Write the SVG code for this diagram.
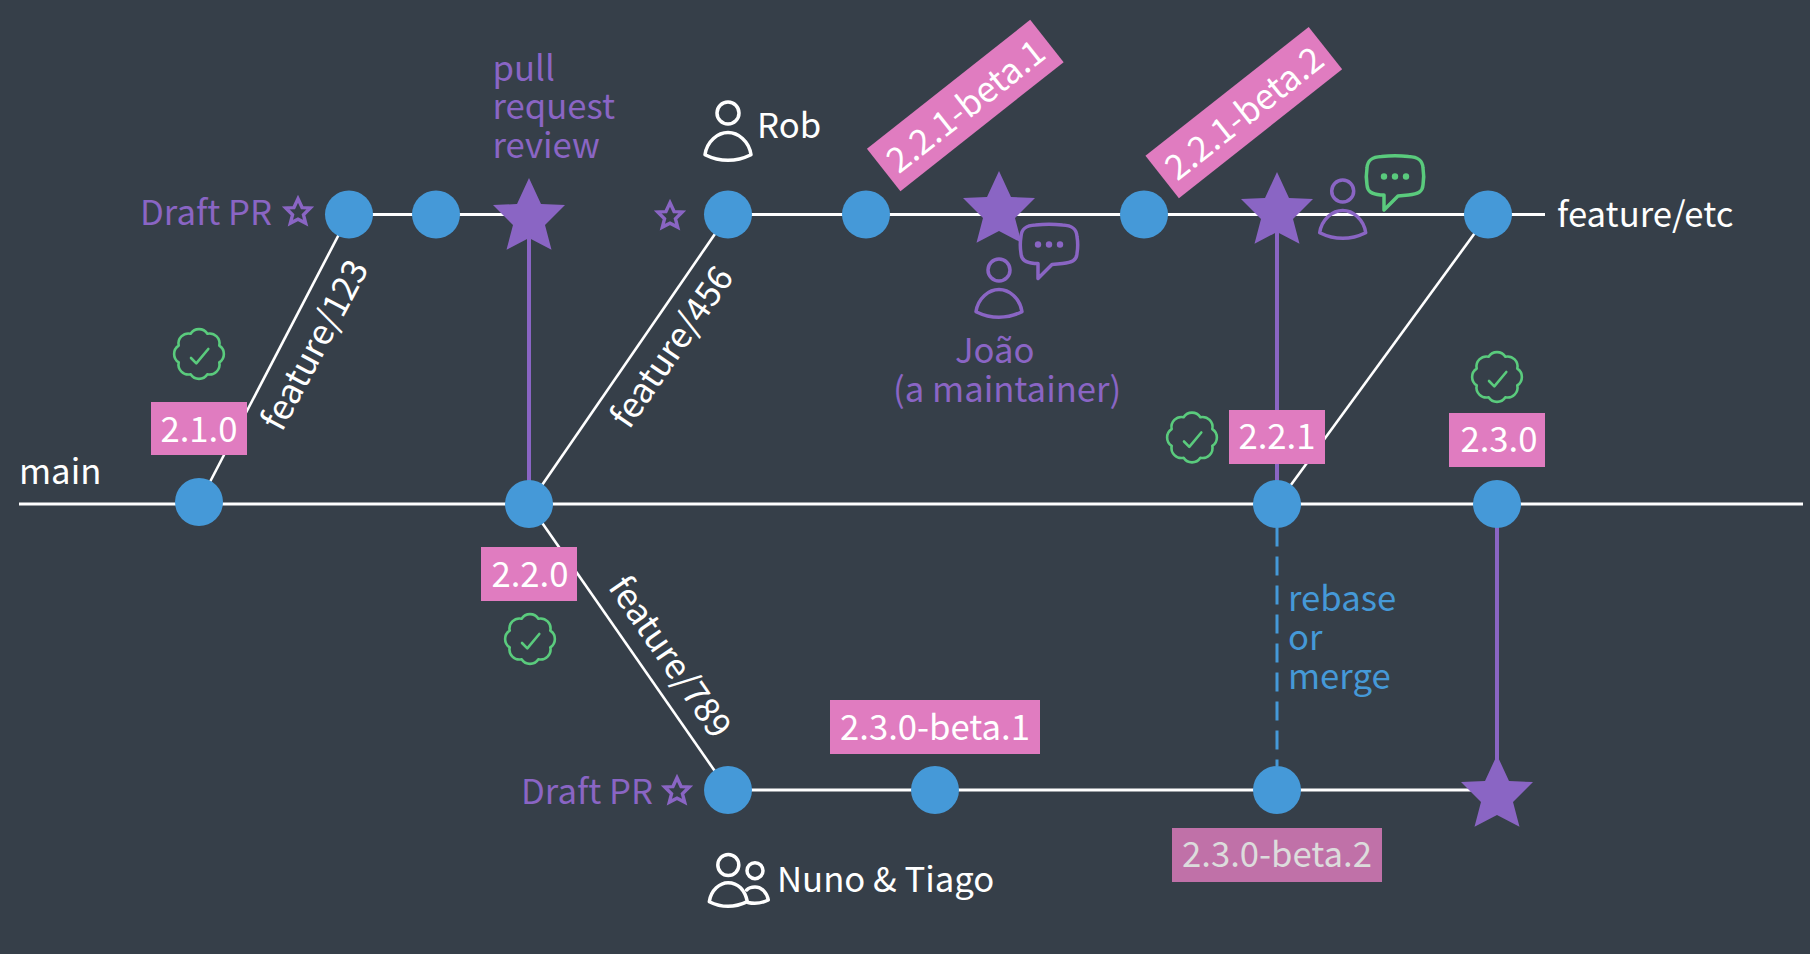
<svg xmlns="http://www.w3.org/2000/svg" xmlns:xlink="http://www.w3.org/1999/xlink" width="1810" height="954" viewBox="0 0 1810 954">
<style>
text{font-family:"Noto Sans CJK SC","Noto Sans CJK JP","Source Sans Pro","Noto Sans",sans-serif;font-size:34.7px;fill:#fff}
.p{fill:#8a65c4}.b{fill:#4599d8}
.m{text-anchor:middle}
.c{fill:#4599d8}
.s{fill:#8a65c4}
.tag{fill:#e07cc0}
.w{stroke:#fff;stroke-width:3;fill:none}
.d{stroke:#fff;stroke-width:2.600;fill:none}
.v{stroke:#8a65c4;stroke-width:4;fill:none}
.ic{fill:none;stroke-width:3.5;stroke-linejoin:round;stroke-linecap:round}
</style>
<defs>
<polygon id="star" points="0,-39 12,-13 36,-12 16,8 22.5,32.7 0,21 -22.5,32.7 -16,8 -36,-12 -12,-13"/>
<g id="badge" fill="none" stroke="#5acb7d" stroke-width="2.6" stroke-linecap="round" stroke-linejoin="round">
<path d="M8.4,-20.3A10,10 0 0 1 20.3,-8.4A10,10 0 0 1 20.3,8.4A10,10 0 0 1 8.4,20.3A10,10 0 0 1 -8.4,20.3A10,10 0 0 1 -20.3,8.4A10,10 0 0 1 -20.3,-8.4A10,10 0 0 1 -8.4,-20.3A10,10 0 0 1 8.4,-20.3Z"/>
<path d="M-8,4L-2.7,9.3L9.3,-5"/>
</g>
<g id="person" class="ic">
<circle cx="0" cy="0" r="11"/>
<path d="M-23,41.7C-21,28 -10,19.5 0,19.5C10,19.5 21,28 23,41.7Q0,53 -23,41.7Z"/>
</g>
<path id="bubble" class="ic" d="M-13.500,-19.500C-5,-20.500 5,-20.500 13.500,-19.500C23,-19 27.500,-16 28,-8C29,-2 29,3 28,9C27.500,16 23,18 13.500,19L3,20L-11,34L-11,19L-14.500,19C-23,18 -27.500,16 -28,9C-29,3 -29,-2 -28,-8C-27.500,-16 -23,-19 -13.500,-19.500Z"/>
</defs>
<rect width="1810" height="954" fill="#363f49"/>
<g id="connectors">
<line class="w" x1="19" y1="504" x2="1803" y2="504"/>
<line class="w" x1="349" y1="214.500" x2="529" y2="214.500"/>
<line class="w" x1="728" y1="214.500" x2="1545" y2="214.500"/>
<line class="w" x1="728" y1="790" x2="1497" y2="790"/>
<line class="d" x1="199" y1="503" x2="349" y2="215"/>
<line class="d" x1="529" y1="504" x2="728" y2="215"/>
<line class="d" x1="529" y1="504" x2="728" y2="790"/>
<line class="d" x1="1277" y1="504" x2="1488" y2="215"/>
<line class="v" x1="529" y1="218" x2="529" y2="504"/>
<line class="v" x1="1277" y1="213" x2="1277" y2="504"/>
<line class="v" x1="1497" y1="504" x2="1497" y2="794"/>
<line x1="1277" y1="527.500" x2="1277" y2="766" stroke="#4599d8" stroke-width="3" stroke-dasharray="19 10"/>
</g>
<g id="nodes">
<circle id="n1" class="c" cx="199" cy="502" r="24"/>
<circle id="n2" class="c" cx="529" cy="504" r="24"/>
<circle id="n3" class="c" cx="1277" cy="504" r="24"/>
<circle id="n4" class="c" cx="1497" cy="504" r="24"/>
<circle id="n5" class="c" cx="349" cy="214.500" r="24"/>
<circle id="n6" class="c" cx="436" cy="214.500" r="24"/>
<circle id="n7" class="c" cx="728" cy="214.500" r="24"/>
<circle id="n8" class="c" cx="866" cy="214.500" r="24"/>
<circle id="n9" class="c" cx="1144" cy="214.500" r="24"/>
<circle id="n10" class="c" cx="1488" cy="214.500" r="24"/>
<circle id="n11" class="c" cx="728" cy="790" r="24"/>
<circle id="n12" class="c" cx="935" cy="790" r="24"/>
<circle id="n13" class="c" cx="1277" cy="790" r="24"/>
<use id="star1" xlink:href="#star" href="#star" class="s" x="529" y="217"/>
<use id="star2" xlink:href="#star" href="#star" class="s" x="999" y="210"/>
<use id="star3" xlink:href="#star" href="#star" class="s" x="1277" y="211"/>
<use id="star4" xlink:href="#star" href="#star" class="s" x="1497" y="794"/>
</g>
<g id="hollow-stars" fill="none" stroke="#8a65c4" stroke-linejoin="miter">
<use xlink:href="#star" href="#star" transform="translate(298 212) scale(.34)" stroke-width="10"/>
<use xlink:href="#star" href="#star" transform="translate(670 216) scale(.34)" stroke-width="10"/>
<use xlink:href="#star" href="#star" transform="translate(677 791) scale(.34)" stroke-width="10"/>
</g>
<g id="tag-210"><rect class="tag" x="151" y="402" width="96" height="53"/><text class="m" x="199" y="442">2.1.0</text></g>
<g id="tag-220"><rect class="tag" x="481" y="547" width="96" height="54"/><text class="m" x="530" y="587">2.2.0</text></g>
<g id="tag-221"><rect class="tag" x="1229" y="410" width="96" height="54"/><text class="m" x="1277" y="449">2.2.1</text></g>
<g id="tag-230"><rect class="tag" x="1449" y="413" width="96" height="54"/><text class="m" x="1499" y="452">2.3.0</text></g>
<g id="tag-230b1"><rect class="tag" x="830" y="700" width="210" height="54"/><text class="m" x="935" y="740">2.3.0-beta.1</text></g>
<g id="tag-230b2"><rect x="1172" y="828" width="210" height="54" fill="#c071a8"/><text class="m" x="1277" y="867" style="fill:#dcdcdc">2.3.0-beta.2</text></g>
<g id="tag-221b1" transform="translate(965.300 105.500) rotate(-38.300)"><rect class="tag" x="-104" y="-27" width="208" height="54"/><text class="m" x="0" y="13">2.2.1-beta.1</text></g>
<g id="tag-221b2" transform="translate(1243.800 112.600) rotate(-38.300)"><rect class="tag" x="-104" y="-27" width="208" height="54"/><text class="m" x="0" y="13">2.2.1-beta.2</text></g>
<g id="badges">
<use xlink:href="#badge" href="#badge" x="199" y="354"/>
<use xlink:href="#badge" href="#badge" x="530" y="639"/>
<use xlink:href="#badge" href="#badge" x="1192" y="437.500"/>
<use xlink:href="#badge" href="#badge" x="1497" y="377"/>
</g>
<g id="people">
<use xlink:href="#person" href="#person" x="728" y="113" stroke="#fff"/>
<use xlink:href="#person" href="#person" x="999" y="270" stroke="#8a65c4"/>
<use xlink:href="#person" href="#person" x="1342.700" y="191" stroke="#8a65c4"/>
<g id="duo" class="ic" stroke="#fff">
<circle cx="728.300" cy="865" r="10.500"/><circle cx="755" cy="870.700" r="8"/>
<path d="M709.300,901.700C711,890 720,882.700 728,882.700C738,882.700 745,890 747.300,901.700Q728,911 709.300,901.700Z"/>
<path d="M746.700,890C749,887.500 752,887 755,887C762,887 767,893 768.300,900Q758,905 748,902.500"/>
</g>
</g>
<g id="bubbles">
<use xlink:href="#bubble" href="#bubble" x="1049" y="244.500" stroke="#8a65c4"/>
<g fill="#8a65c4"><circle cx="1038" cy="244.500" r="3.200"/><circle cx="1049" cy="244.500" r="3.200"/><circle cx="1060" cy="244.500" r="3.200"/></g>
<use xlink:href="#bubble" href="#bubble" x="1395" y="176" stroke="#5acb7d"/>
<g fill="#5acb7d"><circle cx="1384" cy="176.500" r="3.200"/><circle cx="1395" cy="176.500" r="3.200"/><circle cx="1406" cy="176.500" r="3.200"/></g>
</g>
<g id="labels">
<text x="19" y="484">main</text>
<text x="1557" y="227">feature/etc</text>
<text x="757" y="138">Rob</text>
<text x="777" y="892">Nuno &amp; Tiago</text>
<text class="p" x="140" y="225">Draft PR</text>
<text class="p" x="521" y="804">Draft PR</text>
<text class="p" x="492.500" y="81">pull</text>
<text class="p" x="492.500" y="119">request</text>
<text class="p" x="492.500" y="158">review</text>
<text class="p" x="955" y="363">João</text>
<text class="p" x="893" y="402">(a maintainer)</text>
<text class="b" x="1288" y="611">rebase</text>
<text class="b" x="1288" y="650">or</text>
<text class="b" x="1288" y="689">merge</text>
<text class="m" transform="translate(315 345) rotate(-62)" x="0" y="12">feature/123</text>
<text class="m" transform="translate(672 347) rotate(-55.400)" x="0" y="12">feature/456</text>
<text class="m" transform="translate(670 657) rotate(55.400)" x="0" y="12">feature/789</text>
</g>
</svg>
